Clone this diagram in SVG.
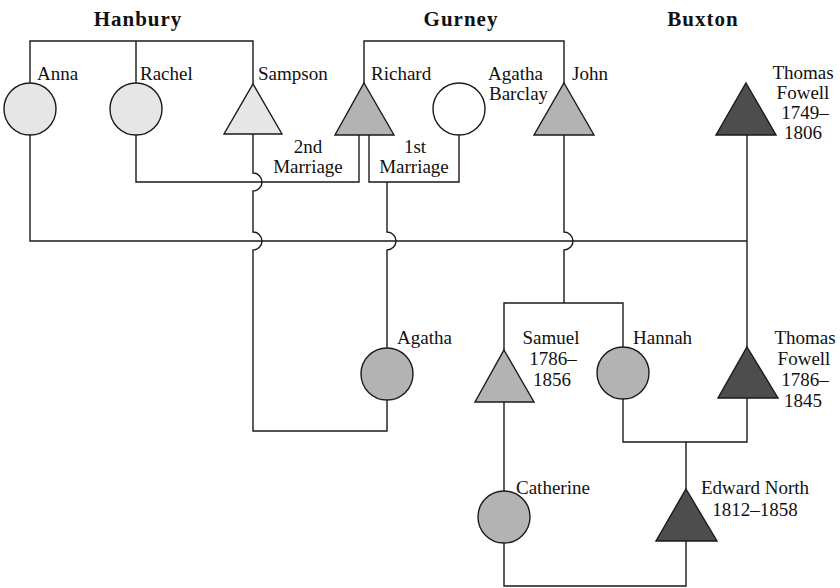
<svg xmlns="http://www.w3.org/2000/svg" width="840" height="588" viewBox="0 0 840 588">
  <style>
    .bg { fill: #ffffff; }
    .link { fill: none; stroke: #1a1a1a; stroke-width: 1.4; }
    .shape { stroke: #1a1a1a; stroke-width: 1.4; }
    .hanbury { fill: #e6e6e6; }
    .gurney { fill: #b3b3b3; }
    .buxton { fill: #4d4d4d; }
    .plain { fill: #ffffff; }
    .family { font-family: "Liberation Serif", "Times New Roman", serif; font-size: 21px; font-weight: bold; letter-spacing: 1px; fill: #111; text-anchor: middle; }
    .label { font-family: "Liberation Serif", "Times New Roman", serif; font-size: 19px; fill: #111; }
    .mid { text-anchor: middle; }
  </style>

  <rect class="bg" x="0" y="0" width="840" height="588"/>

  <!-- family headings -->
  <g id="headings">
    <text class="family" x="138" y="26">Hanbury</text>
    <text class="family" x="461" y="26">Gurney</text>
    <text class="family" x="703" y="26">Buxton</text>
  </g>

  <!-- connectors, with line jumps where a vertical crosses a horizontal -->
  <g id="connectors">
    <!-- Hanbury siblings -->
    <path class="link" d="M30,83 V41 H253 V84 M136,41 V83"/>
    <!-- Gurney siblings -->
    <path class="link" d="M364,83 V41 H564 V83"/>
    <!-- Richard's 2nd marriage (Rachel) -->
    <path class="link" d="M136,135 V182 H359 V135"/>
    <!-- Richard's 1st marriage (Agatha Barclay) -->
    <path class="link" d="M459,135 V182 H369 V135"/>
    <!-- Anna and Thomas Fowell (1749–1806) -->
    <path class="link" d="M30,135 V241 H747"/>
    <path class="link" d="M747,135 V347"/>
    <!-- Sampson and Agatha -->
    <path class="link" d="M253,134 V173 A9,9 0 0 1 253,191 V232 A9,9 0 0 1 253,250 V431 H387 V400"/>
    <!-- child of the 1st marriage -->
    <path class="link" d="M387,182 V232 A9,9 0 0 1 387,250 V348"/>
    <!-- John's children -->
    <path class="link" d="M564,135 V232 A9,9 0 0 1 564,250 V303"/>
    <path class="link" d="M504,350 V303 H623 V347"/>
    <!-- Hannah and Thomas Fowell (1786–1845) -->
    <path class="link" d="M623,399 V442 H747 V398 M686,442 V489"/>
    <!-- Samuel to Catherine -->
    <path class="link" d="M504,402 V491"/>
    <!-- Catherine and Edward North -->
    <path class="link" d="M504,543 V586 H686 V541"/>
  </g>

  <!-- Hanbury -->
  <g id="anna">
    <circle class="shape hanbury" cx="30" cy="109" r="26"/>
    <text class="label" x="37" y="80">Anna</text>
  </g>
  <g id="rachel">
    <circle class="shape hanbury" cx="136" cy="109" r="26"/>
    <text class="label" x="140" y="80">Rachel</text>
  </g>
  <g id="sampson">
    <polygon class="shape hanbury" points="253,84 282,134 224,134"/>
    <text class="label" x="258" y="80">Sampson</text>
  </g>

  <!-- Gurney -->
  <g id="richard">
    <polygon class="shape gurney" points="364,83 394,135 335,135"/>
    <text class="label" x="371" y="80">Richard</text>
  </g>
  <g id="agatha-barclay">
    <circle class="shape plain" cx="459" cy="109" r="26"/>
    <text class="label" x="488" y="80">Agatha</text>
    <text class="label" x="489" y="100">Barclay</text>
  </g>
  <g id="john">
    <polygon class="shape gurney" points="564,83 594,135 534,135"/>
    <text class="label" x="572" y="80">John</text>
  </g>

  <!-- Buxton -->
  <g id="thomas-fowell-1749">
    <polygon class="shape buxton" points="746,83 776,135 716,135"/>
    <text class="label mid" x="803" y="79">Thomas</text>
    <text class="label mid" x="803" y="99">Fowell</text>
    <text class="label mid" x="805" y="119">1749–</text>
    <text class="label mid" x="803" y="139">1806</text>
  </g>

  <!-- marriage labels -->
  <g id="marriage-labels">
    <text class="label mid" x="308" y="153">2nd</text>
    <text class="label mid" x="308" y="173">Marriage</text>
    <text class="label mid" x="415" y="153">1st</text>
    <text class="label mid" x="414" y="173">Marriage</text>
  </g>

  <!-- next generation -->
  <g id="agatha">
    <circle class="shape gurney" cx="387" cy="374" r="26"/>
    <text class="label" x="397" y="344">Agatha</text>
  </g>
  <g id="samuel">
    <polygon class="shape gurney" points="504,350 534,402 475,402"/>
    <text class="label mid" x="551" y="344">Samuel</text>
    <text class="label mid" x="553" y="365">1786–</text>
    <text class="label mid" x="552" y="386">1856</text>
  </g>
  <g id="hannah">
    <circle class="shape gurney" cx="623" cy="373" r="26"/>
    <text class="label" x="633" y="344">Hannah</text>
  </g>
  <g id="thomas-fowell-1786">
    <polygon class="shape buxton" points="747,347 778,398 718,398"/>
    <text class="label mid" x="805" y="344">Thomas</text>
    <text class="label mid" x="804" y="365">Fowell</text>
    <text class="label mid" x="805" y="386">1786–</text>
    <text class="label mid" x="803" y="407">1845</text>
  </g>
  <g id="catherine">
    <circle class="shape gurney" cx="504" cy="517" r="26"/>
    <text class="label" x="516" y="494">Catherine</text>
  </g>
  <g id="edward-north">
    <polygon class="shape buxton" points="686,489 717,541 656,541"/>
    <text class="label mid" x="755" y="494">Edward North</text>
    <text class="label mid" x="755" y="516">1812–1858</text>
  </g>
</svg>
